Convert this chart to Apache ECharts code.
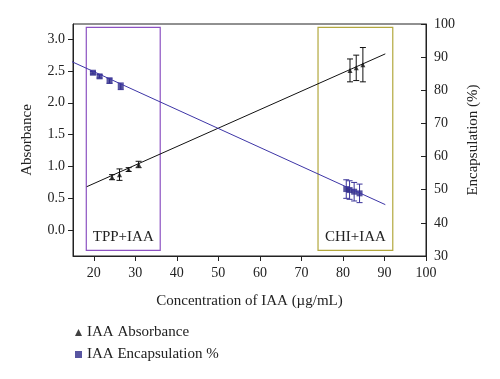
<!DOCTYPE html>
<html>
<head>
<meta charset="utf-8">
<script src="https://cdn.jsdelivr.net/npm/echarts@6/dist/echarts.min.js"></script>
<style>html,body{margin:0;padding:0;background:#fff;}#c{width:500px;height:379px;}</style>
</head>
<body>
<div id="c"></div>
<script>
// ---- data ----
const xTicks = [20, 30, 40, 50, 60, 70, 80, 90, 100];
const absTicks = [0, 0.5, 1.0, 1.5, 2.0, 2.5, 3.0];
const absX = [24.4, 26.2, 28.4, 30.8, 81.7, 83.2, 84.8];
const absY = [0.83, 0.87, 0.95, 1.03, 2.51, 2.55, 2.60];
const absErr = [0.04, 0.09, 0.03, 0.05, 0.18, 0.20, 0.27];
const encX = [19.8, 21.4, 23.8, 26.5, 80.8, 81.6, 82.7, 84.0];
const encY = [85.3, 84.2, 82.9, 81.2, 50.2, 49.9, 49.4, 48.9];
const encErr = [0.4, 0.5, 0.8, 1.0, 2.8, 2.8, 2.8, 2.8];
const fitAbsX = [18.3, 90.2];
const fitAbsY = [0.68, 2.77];
const fitEncX = [13.4, 90.2];
const fitEncY = [89.4, 45.5];
const tppBox = [18.2, 36.0];
const chiBox = [74.0, 92.0];
const boxRange = [31.7, 99.0];
const groupLabels = ['TPP+IAA', 'CHI+IAA'];
const seriesNames = ['IAA Absorbance', 'IAA Encapsulation %'];

const FONT = 'Liberation Serif';
const zip3 = (a, b, c) => a.map((v, i) => c ? [v, b[i], c[i]] : [v, b[i]]);

function errRender(params, api) {
  const x = api.value(0), y = api.value(1), e = api.value(2);
  const hi = api.coord([x, y + e]);
  const lo = api.coord([x, y - e]);
  const w = 3;
  const st = { stroke: api.visual('color'), lineWidth: 1 };
  return {
    type: 'group',
    children: [
      { type: 'line', shape: { x1: hi[0], y1: hi[1], x2: lo[0], y2: lo[1] }, style: st },
      { type: 'line', shape: { x1: hi[0] - w, y1: hi[1], x2: hi[0] + w, y2: hi[1] }, style: st },
      { type: 'line', shape: { x1: lo[0] - w, y1: lo[1], x2: lo[0] + w, y2: lo[1] }, style: st }
    ]
  };
}

const chart = echarts.init(document.getElementById('c'), null, { renderer: 'canvas' });
const axisText = { fontFamily: FONT, fontSize: 14, color: '#222' };
chart.setOption({
  animation: false,
  textStyle: { fontFamily: FONT },
  grid: { left: 73, right: 74, top: 24, height: 232, show: true, borderColor: '#222', borderWidth: 1 },
  legend: {
    data: seriesNames, orient: 'vertical', left: 70, top: 320, itemGap: 7,
    itemWidth: 7, itemHeight: 7,
    textStyle: { fontFamily: FONT, fontSize: 15, color: '#222' }
  },
  xAxis: {
    type: 'value', min: 15, max: 100,
    name: 'Concentration of IAA (µg/mL)', nameLocation: 'middle', nameGap: 38,
    nameTextStyle: { fontFamily: FONT, fontSize: 15, color: '#222' },
    axisLine: { onZero: false, lineStyle: { color: '#222' } },
    axisTick: { customValues: xTicks, length: 5, lineStyle: { color: '#222' } },
    axisLabel: Object.assign({ customValues: xTicks, margin: 10 }, axisText),
    splitLine: { show: false }
  },
  yAxis: [
    {
      type: 'value', min: -0.41, max: 3.24, position: 'left',
      name: 'Absorbance', nameLocation: 'middle', nameGap: 38,
      nameTextStyle: { fontFamily: FONT, fontSize: 15, color: '#222' },
      axisLine: { show: true, onZero: false, lineStyle: { color: '#222' } },
      axisTick: { show: true, customValues: absTicks, length: 5, lineStyle: { color: '#222' } },
      axisLabel: Object.assign({ customValues: absTicks, margin: 8, formatter: v => v.toFixed(1) }, axisText),
      splitLine: { show: false }
    },
    {
      type: 'value', min: 30, max: 100, interval: 10, position: 'right',
      name: 'Encapsulation (%)', nameLocation: 'middle', nameGap: 38, nameRotate: 90,
      nameTextStyle: { fontFamily: FONT, fontSize: 15, color: '#222' },
      axisLine: { show: true, onZero: false, lineStyle: { color: '#222' } },
      axisTick: { show: true, inside: true, length: 5, lineStyle: { color: '#222' } },
      axisLabel: Object.assign({ margin: 8 }, axisText),
      splitLine: { show: false }
    }
  ],
  series: [
    {
      type: 'line', yAxisIndex: 0, data: zip3(fitAbsX, fitAbsY), symbol: 'none',
      lineStyle: { color: '#111', width: 1 }, silent: true, clip: false
    },
    {
      type: 'line', yAxisIndex: 1, data: zip3(fitEncX, fitEncY), symbol: 'none',
      lineStyle: { color: '#3d35a6', width: 1 }, silent: true, clip: false,
      markArea: {
        silent: true,
        data: [
          [{ xAxis: tppBox[0], yAxis: boxRange[1], name: groupLabels[0],
             itemStyle: { color: 'rgba(0,0,0,0)', borderColor: '#8c52c2', borderWidth: 1.2 } },
           { xAxis: tppBox[1], yAxis: boxRange[0] }],
          [{ xAxis: chiBox[0], yAxis: boxRange[1], name: groupLabels[1],
             itemStyle: { color: 'rgba(0,0,0,0)', borderColor: '#b3a83e', borderWidth: 1.2 } },
           { xAxis: chiBox[1], yAxis: boxRange[0] }]
        ],
        label: { show: true, position: 'insideBottom', distance: 6, fontFamily: FONT, fontSize: 15, color: '#222' }
      }
    },
    {
      type: 'custom', yAxisIndex: 0, data: zip3(absX, absY, absErr), renderItem: errRender,
      itemStyle: { color: '#111' }, silent: true
    },
    {
      type: 'custom', yAxisIndex: 1, data: zip3(encX, encY, encErr), renderItem: errRender,
      itemStyle: { color: '#3a3399' }, silent: true
    },
    {
      name: seriesNames[0], type: 'scatter', yAxisIndex: 0, data: zip3(absX, absY),
      symbol: 'triangle', symbolSize: 5, itemStyle: { color: '#111' }
    },
    {
      name: seriesNames[1], type: 'scatter', yAxisIndex: 1, data: zip3(encX, encY),
      symbol: 'rect', symbolSize: 6, itemStyle: { color: '#2e2a8a' }
    }
  ]
});
</script>
</body>
</html>
